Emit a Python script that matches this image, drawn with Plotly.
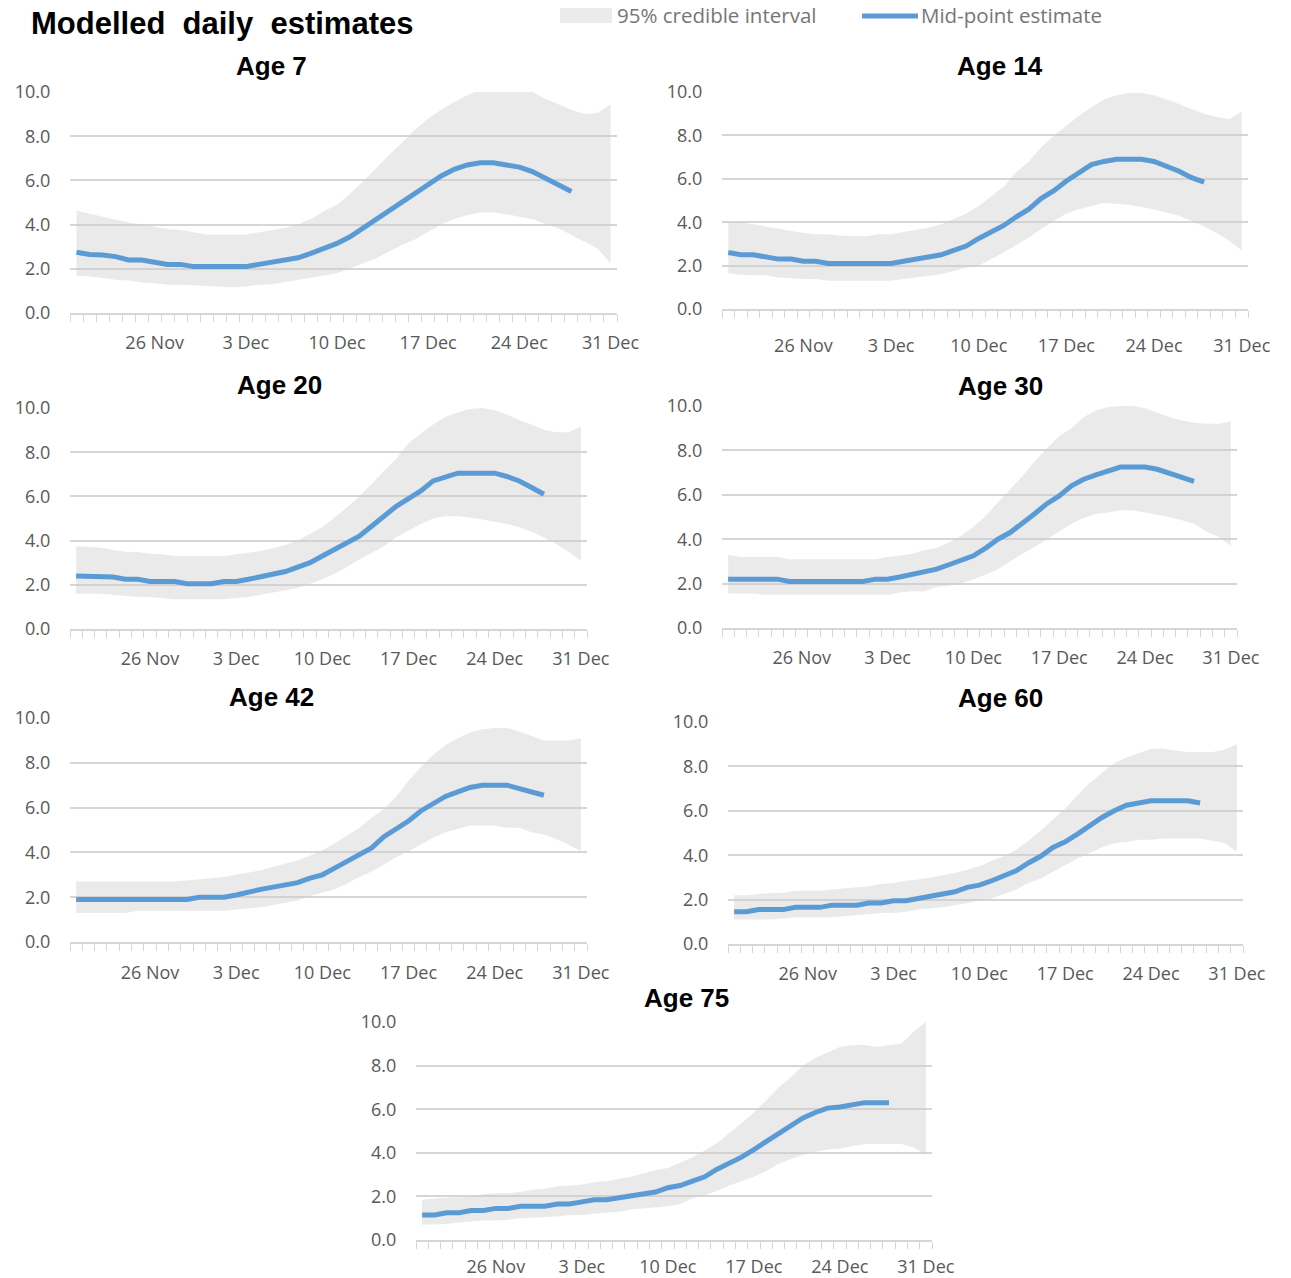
import pandas as pd
import plotly.graph_objects as go

# ---------------- data ----------------
dates = pd.date_range("2021-11-20", "2021-12-31", freq="D")   # 42 daily categories
tick_dates = ["2021-11-26", "2021-12-03", "2021-12-10", "2021-12-17", "2021-12-24", "2021-12-31"]
tick_labels = ["26 Nov", "3 Dec", "10 Dec", "17 Dec", "24 Dec", "31 Dec"]
y_ticks = [0, 2, 4, 6, 8, 10]

titles = ["Age 7", "Age 14", "Age 20", "Age 30", "Age 42", "Age 60", "Age 75"]

mid7 = [2.75, 2.65, 2.62, 2.55, 2.4, 2.4, 2.3, 2.2, 2.2, 2.1, 2.1, 2.1, 2.1, 2.1, 2.2, 2.3, 2.4, 2.5, 2.7, 2.9,
        3.15, 3.45, 3.85, 4.2, 4.6, 5.05, 5.45, 5.8, 6.2, 6.5, 6.7, 6.8, 6.8, 6.7, 6.6, 6.4, 6.1, 5.8, 5.5]
upper7 = [4.63, 4.5, 4.35, 4.25, 4.1, 4.0, 3.9, 3.8, 3.75, 3.65, 3.55, 3.55, 3.55, 3.55, 3.65, 3.75, 3.85, 4.0,
          4.25, 4.6, 4.9, 5.4, 5.95, 6.55, 7.15, 7.7, 8.3, 8.8, 9.2, 9.55, 9.85, 10.1, 10.2, 10.2, 10.2, 10.0,
          9.7, 9.45, 9.2, 9.0, 9.05, 9.45]
lower7 = [1.68, 1.65, 1.58, 1.5, 1.47, 1.38, 1.35, 1.28, 1.28, 1.25, 1.2, 1.17, 1.17, 1.2, 1.28, 1.3, 1.4, 1.47,
          1.58, 1.68, 1.8, 2.03, 2.25, 2.48, 2.78, 3.08, 3.34, 3.68, 4.0, 4.25, 4.43, 4.55, 4.55, 4.47, 4.36,
          4.24, 4.03, 3.83, 3.53, 3.23, 2.93, 2.25]

mid14 = [2.6, 2.5, 2.5, 2.4, 2.3, 2.3, 2.2, 2.2, 2.1, 2.1, 2.1, 2.1, 2.1, 2.1, 2.2, 2.3, 2.4, 2.5, 2.7, 2.9,
         3.25, 3.55, 3.85, 4.25, 4.6, 5.1, 5.45, 5.9, 6.3, 6.65, 6.8, 6.9, 6.9, 6.9, 6.8, 6.6, 6.35, 6.05, 5.85]
upper14 = [4.0, 4.0, 3.9, 3.8, 3.7, 3.6, 3.5, 3.45, 3.45, 3.38, 3.35, 3.35, 3.45, 3.45, 3.55, 3.65, 3.75, 3.9,
           4.15, 4.4, 4.75, 5.2, 5.65, 6.3, 6.8, 7.45, 8.0, 8.45, 8.9, 9.3, 9.65, 9.85, 9.95, 9.95, 9.85, 9.65,
           9.45, 9.2, 9.0, 8.85, 8.75, 9.1]
lower14 = [1.65, 1.57, 1.57, 1.55, 1.45, 1.4, 1.38, 1.38, 1.3, 1.3, 1.3, 1.3, 1.3, 1.3, 1.38, 1.45, 1.5, 1.6,
           1.75, 1.9, 2.0, 2.3, 2.6, 2.95, 3.3, 3.7, 4.05, 4.4, 4.6, 4.75, 4.9, 4.85, 4.8, 4.7, 4.6, 4.45, 4.3,
           4.05, 3.8, 3.5, 3.15, 2.7]

mid20 = [2.4, 2.4, 2.4, 2.35, 2.25, 2.25, 2.15, 2.15, 2.15, 2.05, 2.05, 2.05, 2.15, 2.15, 2.25, 2.35, 2.45, 2.6,
         2.8, 3.0, 3.3, 3.6, 3.85, 4.2, 4.65, 5.1, 5.55, 5.9, 6.25, 6.7, 6.9, 7.05, 7.05, 7.05, 7.05, 6.9, 6.7,
         6.4, 6.1]
upper20 = [3.75, 3.7, 3.68, 3.58, 3.5, 3.48, 3.4, 3.38, 3.3, 3.3, 3.3, 3.3, 3.3, 3.38, 3.45, 3.53, 3.65, 3.8,
           4.0, 4.3, 4.6, 5.05, 5.5, 6.0, 6.55, 7.15, 7.7, 8.4, 8.85, 9.25, 9.6, 9.8, 9.95, 10.0, 9.9, 9.7, 9.45,
           9.25, 9.0, 8.9, 8.9, 9.15]
lower20 = [1.6, 1.6, 1.6, 1.55, 1.5, 1.45, 1.45, 1.4, 1.35, 1.35, 1.35, 1.35, 1.35, 1.4, 1.45, 1.55, 1.65, 1.75,
           1.85, 2.05, 2.25, 2.5, 2.8, 3.15, 3.45, 3.75, 4.15, 4.45, 4.75, 5.0, 5.1, 5.1, 5.05, 4.95, 4.85, 4.75,
           4.6, 4.4, 4.15, 3.85, 3.5, 3.1]

mid30 = [2.2, 2.2, 2.2, 2.2, 2.2, 2.1, 2.1, 2.1, 2.1, 2.1, 2.1, 2.1, 2.2, 2.2, 2.3, 2.4, 2.5, 2.65, 2.85, 3.05,
         3.25, 3.6, 4.0, 4.3, 4.7, 5.15, 5.6, 5.95, 6.4, 6.7, 6.9, 7.1, 7.25, 7.25, 7.25, 7.15, 6.95, 6.8, 6.6]
upper30 = [3.3, 3.2, 3.2, 3.2, 3.2, 3.1, 3.1, 3.1, 3.1, 3.1, 3.1, 3.1, 3.1, 3.2, 3.25, 3.35, 3.5, 3.6, 3.85,
           4.15, 4.55, 5.05, 5.65, 6.25, 6.85, 7.5, 8.1, 8.65, 9.0, 9.5, 9.8, 9.95, 10.0, 10.0, 9.9, 9.7, 9.5,
           9.35, 9.25, 9.2, 9.2, 9.3]
lower30 = [1.55, 1.55, 1.55, 1.5, 1.5, 1.5, 1.5, 1.5, 1.5, 1.5, 1.5, 1.5, 1.5, 1.5, 1.6, 1.65, 1.65, 1.85, 1.9,
           2.0, 2.2, 2.4, 2.65, 3.0, 3.35, 3.65, 4.0, 4.35, 4.7, 4.95, 5.15, 5.2, 5.3, 5.3, 5.2, 5.1, 5.0, 4.85,
           4.7, 4.35, 4.1, 3.7]

mid42 = [1.9, 1.9, 1.9, 1.9, 1.9, 1.9, 1.9, 1.9, 1.9, 1.9, 2.0, 2.0, 2.0, 2.1, 2.25, 2.35, 2.45, 2.55, 2.65,
         2.85, 3.0, 3.3, 3.6, 3.95, 4.2, 4.7, 5.05, 5.4, 5.85, 6.15, 6.5, 6.7, 6.9, 7.0, 7.0, 7.0, 6.85, 6.7, 6.55]
upper42 = [2.7, 2.7, 2.7, 2.7, 2.7, 2.7, 2.7, 2.7, 2.7, 2.75, 2.8, 2.85, 2.9, 3.0, 3.1, 3.2, 3.35, 3.5, 3.65,
           3.85, 4.1, 4.4, 4.75, 5.1, 5.55, 5.95, 6.5, 7.2, 7.8, 8.35, 8.8, 9.1, 9.35, 9.5, 9.55, 9.55, 9.4, 9.2,
           9.0, 9.0, 9.0, 9.1]
lower42 = [1.3, 1.3, 1.3, 1.3, 1.3, 1.4, 1.4, 1.4, 1.4, 1.4, 1.4, 1.4, 1.4, 1.45, 1.5, 1.55, 1.65, 1.75, 1.85,
           2.05, 2.2, 2.35, 2.6, 2.9, 3.15, 3.45, 3.8, 4.05, 4.35, 4.65, 4.9, 5.05, 5.2, 5.2, 5.2, 5.1, 5.1, 4.9,
           4.8, 4.6, 4.35, 4.05]

mid60 = [1.45, 1.45, 1.55, 1.55, 1.55, 1.65, 1.65, 1.65, 1.75, 1.75, 1.75, 1.85, 1.85, 1.95, 1.95, 2.05, 2.15,
         2.25, 2.35, 2.55, 2.65, 2.85, 3.1, 3.3, 3.65, 3.95, 4.35, 4.6, 4.95, 5.35, 5.7, 6.0, 6.25, 6.35, 6.45,
         6.45, 6.45, 6.45, 6.35]
upper60 = [2.2, 2.2, 2.25, 2.3, 2.3, 2.4, 2.4, 2.4, 2.45, 2.5, 2.55, 2.6, 2.7, 2.75, 2.85, 2.9, 3.0, 3.1, 3.2,
           3.35, 3.5, 3.75, 3.95, 4.25, 4.65, 5.1, 5.6, 6.1, 6.7, 7.25, 7.7, 8.15, 8.4, 8.6, 8.8, 8.8, 8.7, 8.65,
           8.65, 8.65, 8.75, 9.0]
lower60 = [1.1, 1.1, 1.1, 1.1, 1.15, 1.2, 1.2, 1.2, 1.2, 1.25, 1.3, 1.35, 1.4, 1.4, 1.45, 1.55, 1.6, 1.65, 1.75,
           1.85, 1.95, 2.05, 2.25, 2.45, 2.75, 2.95, 3.25, 3.55, 3.85, 4.1, 4.35, 4.55, 4.6, 4.7, 4.7, 4.75, 4.75,
           4.75, 4.75, 4.65, 4.55, 4.15]

mid75 = [1.15, 1.15, 1.25, 1.25, 1.35, 1.35, 1.45, 1.45, 1.55, 1.55, 1.55, 1.65, 1.65, 1.75, 1.85, 1.85, 1.95,
         2.05, 2.1, 2.2, 2.4, 2.5, 2.7, 2.9, 3.25, 3.5, 3.8, 4.15, 4.5, 4.85, 5.25, 5.6, 5.85, 6.05, 6.1, 6.2,
         6.3, 6.3, 6.3]
upper75 = [1.85, 1.9, 1.95, 1.95, 2.0, 2.1, 2.15, 2.15, 2.2, 2.3, 2.35, 2.45, 2.5, 2.55, 2.65, 2.7, 2.8, 2.9,
           3.05, 3.2, 3.3, 3.55, 3.8, 4.1, 4.45, 4.9, 5.35, 5.85, 6.4, 7.0, 7.45, 8.0, 8.35, 8.6, 8.85, 8.95,
           8.95, 8.85, 8.95, 9.0, 9.55, 10.0]
lower75 = [0.7, 0.7, 0.73, 0.8, 0.85, 0.9, 0.9, 0.93, 1.0, 1.03, 1.03, 1.08, 1.15, 1.15, 1.2, 1.25, 1.3, 1.4,
           1.45, 1.5, 1.55, 1.65, 1.9, 2.05, 2.25, 2.5, 2.7, 2.9, 3.15, 3.5, 3.7, 3.9, 4.05, 4.15, 4.2, 4.3, 4.4,
           4.4, 4.4, 4.4, 4.25, 3.9]

series = [
    (mid7, lower7, upper7), (mid14, lower14, upper14), (mid20, lower20, upper20),
    (mid30, lower30, upper30), (mid42, lower42, upper42), (mid60, lower60, upper60),
    (mid75, lower75, upper75),
]

# ---------------- layout (pixel boxes: x0, x1, ytop(10.0), ybottom(0.0), title centre x, title centre y, label gap) ----
W, H = 1291, 1278
boxes = [
    (70, 617, 92, 313, 271, 66, 13),
    (722, 1248, 92, 309, 1000, 66, 20),
    (70, 587, 408, 629, 279, 385, 13),
    (722, 1237, 406, 628, 1000, 386, 13),
    (70, 587, 718, 942, 271, 697, 14),
    (728, 1243, 722, 944, 1000, 698, 13),
    (416, 932, 1022, 1240, 686, 998, 10),
]

BAND = "rgba(205,205,205,0.42)"
LINE = "#5b9bd5"
GRID = "#d6d6d6"
TXT = "#595959"
TICKFONT = dict(family="Open Sans, sans-serif", size=18, color=TXT)

fig = go.Figure()
layout = dict(template="none", width=W, height=H, autosize=False,
              margin=dict(l=0, r=0, t=0, b=0, pad=0),
              paper_bgcolor="white", plot_bgcolor="white", showlegend=False)
annotations = []

for k, ((mid, lo, up), box, title) in enumerate(zip(series, boxes, titles), start=1):
    x0, x1, yt, yb, tx, ty, gap = box
    xa = "x" if k == 1 else f"x{k}"
    ya = "y" if k == 1 else f"y{k}"
    fig.add_trace(go.Scatter(x=dates, y=lo, mode="lines", line=dict(width=0, color=BAND),
                             hoverinfo="skip", xaxis=xa, yaxis=ya, name="lower"))
    fig.add_trace(go.Scatter(x=dates, y=up, mode="lines", line=dict(width=0, color=BAND),
                             fill="tonexty", fillcolor=BAND, xaxis=xa, yaxis=ya,
                             name="95% credible interval"))
    fig.add_trace(go.Scatter(x=dates[:len(mid)], y=mid, mode="lines",
                             line=dict(width=5, color=LINE, shape="linear"),
                             xaxis=xa, yaxis=ya, name="Mid-point estimate"))
    xkey = "xaxis" if k == 1 else f"xaxis{k}"
    ykey = "yaxis" if k == 1 else f"yaxis{k}"
    layout[xkey] = dict(
        domain=[x0 / W, x1 / W], anchor=ya, automargin=False,
        type="date",
        range=["2021-11-19 12:00", "2021-12-31 12:00"],
        tickmode="array", tickvals=tick_dates, ticktext=tick_labels,
        ticks="outside", ticklen=gap, tickcolor="rgba(0,0,0,0)",
        showgrid=False, zeroline=False,
        showline=True, linecolor=GRID, linewidth=1.5,
        tickfont=TICKFONT,
        minor=dict(ticks="outside", ticklen=7, tickwidth=1.3, tickcolor=GRID,
                   tick0="2021-11-19 12:00", dtick=86400000, showgrid=False),
        fixedrange=True,
    )
    layout[ykey] = dict(
        domain=[1 - yb / H, 1 - yt / H], anchor=xa, automargin=False,
        range=[0, 10], tickmode="array", tickvals=y_ticks, tickformat=".1f",
        showgrid=True, gridcolor=GRID, gridwidth=1.5, zeroline=False,
        showline=False, ticks="outside", ticklen=15, tickcolor="rgba(0,0,0,0)",
        tickfont=TICKFONT, fixedrange=True,
    )
    annotations.append(dict(text=f"<b>{title}</b>", x=tx / W, y=1 - ty / H, xref="paper", yref="paper",
                            xanchor="center", yanchor="middle", showarrow=False,
                            font=dict(family="Liberation Sans, Arial, sans-serif", size=26, color="black")))

# main title
annotations.append(dict(text="<b>Modelled\u00a0 daily\u00a0 estimates</b>", x=29 / W, y=1 - 23 / H,
                        xref="paper", yref="paper", xanchor="left", yanchor="middle", showarrow=False,
                        font=dict(family="Liberation Sans, Arial, sans-serif", size=31, color="black")))
# legend texts
LEGFONT = dict(family="Open Sans, sans-serif", size=20.5, color="#767676")
annotations.append(dict(text="95% credible interval", x=615 / W, y=1 - 15 / H, xref="paper", yref="paper",
                        xanchor="left", yanchor="middle", showarrow=False, font=LEGFONT))
annotations.append(dict(text="Mid-point estimate", x=919 / W, y=1 - 15 / H, xref="paper", yref="paper",
                        xanchor="left", yanchor="middle", showarrow=False, font=LEGFONT))

shapes = [
    dict(type="rect", xref="paper", yref="paper", x0=560 / W, x1=612 / W, y0=1 - 23 / H, y1=1 - 8 / H,
         fillcolor="#ebebeb", line=dict(width=0)),
    dict(type="line", xref="paper", yref="paper", x0=862 / W, x1=918 / W, y0=1 - 16 / H, y1=1 - 16 / H,
         line=dict(color=LINE, width=5)),
]

layout["annotations"] = annotations
layout["shapes"] = shapes
fig.update_layout(**layout)

fig.write_html(
    "out.html",
    config={"displayModeBar": False, "responsive": False},
    post_script="document.body.style.margin='0';document.body.style.padding='0';"
                "document.documentElement.style.overflow='hidden';document.body.style.overflow='hidden';",
)
